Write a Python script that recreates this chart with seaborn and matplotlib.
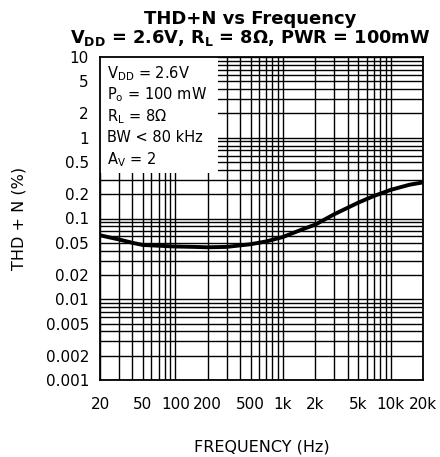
import numpy as np
import pandas as pd
import matplotlib
matplotlib.use("Agg")
import matplotlib.pyplot as plt
import matplotlib.ticker as mticker
from matplotlib.patches import Rectangle
import seaborn as sns

# THD+N curve
freq_hz = [20, 25, 30, 40, 50, 70, 100, 150, 200, 300, 500, 700,
           1000, 1500, 2000, 3000, 5000, 7000, 10000, 15000, 20000]
thd_pct = [0.062, 0.058, 0.055, 0.050, 0.047, 0.046, 0.045, 0.0445, 0.044,
           0.0445, 0.048, 0.052, 0.059, 0.073, 0.084, 0.113, 0.157, 0.19,
           0.226, 0.262, 0.28]

x_ticks = [20, 50, 100, 200, 500, 1000, 2000, 5000, 10000, 20000]
x_labels = ["20", "50", "100", "200", "500", "1k", "2k", "5k", "10k", "20k"]
y_ticks = [0.001, 0.002, 0.005, 0.01, 0.02, 0.05, 0.1, 0.2, 0.5, 1, 2, 5, 10]
y_labels = ["0.001", "0.002", "0.005", "0.01", "0.02", "0.05", "0.1",
            "0.2", "0.5", "1", "2", "5", "10"]

conditions = [
    r"V$_{\mathregular{DD}}$ = 2.6V",
    r"P$_{\mathregular{o}}$ = 100 mW",
    r"R$_{\mathregular{L}}$ = 8Ω",
    "BW < 80 kHz",
    r"A$_{\mathregular{V}}$ = 2",
]

sns.set_style("white")
plt.rcParams["font.family"] = ["DejaVu Sans"]
plt.rcParams["text.color"] = "black"
plt.rcParams["axes.labelcolor"] = "black"

df = pd.DataFrame({"freq": freq_hz, "thd": thd_pct})

W, H = 440, 457
fig = plt.figure(figsize=(W / 100, H / 100), dpi=100)
ax = fig.add_axes([100 / W, 1 - 380 / H, 323 / W, 323 / H])
ax.set_xscale("log")
ax.set_yscale("log")

sns.lineplot(data=df, x="freq", y="thd", ax=ax, color="black", lw=2.8,
             zorder=4)

ax.set_xlim(20, 20000)
ax.set_ylim(0.001, 10)

ax.xaxis.set_major_locator(mticker.FixedLocator(x_ticks))
ax.xaxis.set_major_formatter(mticker.FixedFormatter(x_labels))
ax.xaxis.set_minor_locator(mticker.LogLocator(base=10, subs=np.arange(2, 10)))
ax.xaxis.set_minor_formatter(mticker.NullFormatter())
ax.yaxis.set_major_locator(mticker.FixedLocator(y_ticks))
ax.yaxis.set_major_formatter(mticker.FixedFormatter(y_labels))
ax.yaxis.set_minor_locator(mticker.LogLocator(base=10, subs=np.arange(2, 10)))
ax.yaxis.set_minor_formatter(mticker.NullFormatter())

ax.grid(True, which="both", color="black", lw=1.0)
ax.tick_params(which="both", length=0, labelsize=11, colors="black")
ax.tick_params(axis="x", pad=12)
ax.tick_params(axis="y", pad=8)
for s in ax.spines.values():
    s.set_color("black")
    s.set_linewidth(1.3)

# white box with the test conditions, covering the grid
ax.add_patch(Rectangle((0, 1 - 116 / 323), 118 / 323, 116 / 323,
                       transform=ax.transAxes, facecolor="white",
                       edgecolor="none", zorder=2.2))
for i, txt in enumerate(conditions):
    fig.text(107 / W, 1 - (78 + 21.5 * i) / H, txt, fontsize=10.5,
             va="baseline", ha="left", zorder=5)

ax.set_xlabel("FREQUENCY (Hz)", fontsize=11.5, labelpad=20)
ax.set_ylabel("THD + N (%)", fontsize=11.5, labelpad=14)

fig.text(250 / W, 1 - 24 / H, "THD+N vs Frequency", fontsize=13,
         fontweight="bold", ha="center", va="baseline")
fig.text(250 / W, 1 - 43 / H,
         r"V$_{\mathbf{DD}}$ = 2.6V, R$_{\mathbf{L}}$ = 8Ω, PWR = 100mW",
         fontsize=12.8, fontweight="bold", ha="center", va="baseline")

fig.savefig("out.png", dpi=100)
